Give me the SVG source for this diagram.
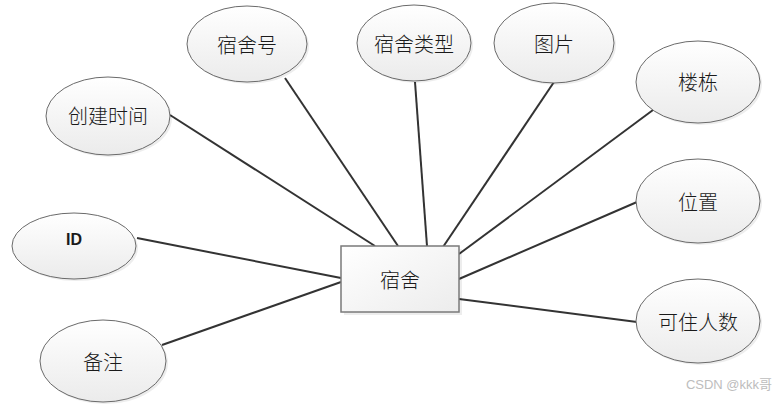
<svg xmlns="http://www.w3.org/2000/svg" width="783" height="405" viewBox="0 0 783 405">
<defs>
<linearGradient id="g" x1="0" y1="0" x2="0" y2="1">
<stop offset="0" stop-color="#ffffff"/>
<stop offset="1" stop-color="#ebebeb"/>
</linearGradient>
<linearGradient id="gr" x1="0" y1="0" x2="1" y2="1">
<stop offset="0" stop-color="#ffffff"/>
<stop offset="1" stop-color="#ececec"/>
</linearGradient>
</defs>
<style>
.e{fill:url(#g);stroke:#6a6a6a;stroke-width:1}
.sh{fill:#000;opacity:0.07}
.t{font-family:"Noto Sans CJK SC","Liberation Sans",sans-serif;font-size:20px;font-weight:300;fill:#1a1a1a;text-anchor:middle;dominant-baseline:central}
.c{stroke:#333;stroke-width:2;fill:none}
</style>
<rect width="783" height="405" fill="#ffffff"/>
<g id="connectors">
<line class="c" x1="170" y1="115" x2="375" y2="246"/>
<line class="c" x1="285" y1="78" x2="398" y2="246"/>
<line class="c" x1="415" y1="82" x2="427" y2="246"/>
<line class="c" x1="554" y1="82" x2="443" y2="247"/>
<line class="c" x1="653" y1="110" x2="459" y2="254"/>
<line class="c" x1="637" y1="202" x2="459" y2="279"/>
<line class="c" x1="637" y1="322" x2="459" y2="299"/>
<line class="c" x1="137" y1="238" x2="341" y2="278"/>
<line class="c" x1="162" y1="345" x2="341" y2="282"/>
</g>
<g id="dorm">
<rect x="344" y="249" width="118" height="66" class="sh"/>
<rect x="341" y="246" width="118" height="66" fill="url(#gr)" stroke="#7a7a7a" stroke-width="1.5"/>
<text class="t" x="400" y="279">宿舍</text>
</g>
<g id="created">
<ellipse class="sh" cx="110" cy="118" rx="62" ry="39"/>
<ellipse class="e" cx="108" cy="116" rx="62" ry="39"/>
<text class="t" x="108" y="115">创建时间</text>
</g>
<g id="dormno">
<ellipse class="sh" cx="249" cy="46" rx="60" ry="38"/>
<ellipse class="e" cx="247" cy="44" rx="60" ry="38"/>
<text class="t" x="247" y="44">宿舍号</text>
</g>
<g id="dormtype">
<ellipse class="sh" cx="416" cy="45" rx="57" ry="38"/>
<ellipse class="e" cx="414" cy="43" rx="57" ry="38"/>
<text class="t" x="414" y="43">宿舍类型</text>
</g>
<g id="pic">
<ellipse class="sh" cx="556" cy="45" rx="60" ry="40"/>
<ellipse class="e" cx="554" cy="43" rx="60" ry="40"/>
<text class="t" x="554" y="43">图片</text>
</g>
<g id="building">
<ellipse class="sh" cx="700" cy="84" rx="62" ry="41"/>
<ellipse class="e" cx="698" cy="82" rx="62" ry="41"/>
<text class="t" x="698" y="81">楼栋</text>
</g>
<g id="location">
<ellipse class="sh" cx="700" cy="203" rx="62" ry="42"/>
<ellipse class="e" cx="698" cy="201" rx="62" ry="42"/>
<text class="t" x="698" y="201">位置</text>
</g>
<g id="capacity">
<ellipse class="sh" cx="700" cy="323" rx="62" ry="42"/>
<ellipse class="e" cx="698" cy="321" rx="62" ry="42"/>
<text class="t" x="698" y="321">可住人数</text>
</g>
<g id="idnode">
<ellipse class="sh" cx="76" cy="248" rx="62" ry="33"/>
<ellipse class="e" cx="74" cy="246" rx="62" ry="33"/>
<text class="t" x="74" y="239" style="font-family:'Liberation Sans',sans-serif;font-weight:bold;font-size:16px">ID</text>
</g>
<g id="remark">
<ellipse class="sh" cx="105" cy="363" rx="63" ry="41"/>
<ellipse class="e" cx="103" cy="361" rx="63" ry="41"/>
<text class="t" x="103" y="361">备注</text>
</g>
<text x="729" y="389" style="font-family:'Liberation Sans','Noto Sans CJK SC',sans-serif;font-size:13px;fill:#bdbdbd;text-anchor:middle">CSDN @kkk哥</text>
</svg>
